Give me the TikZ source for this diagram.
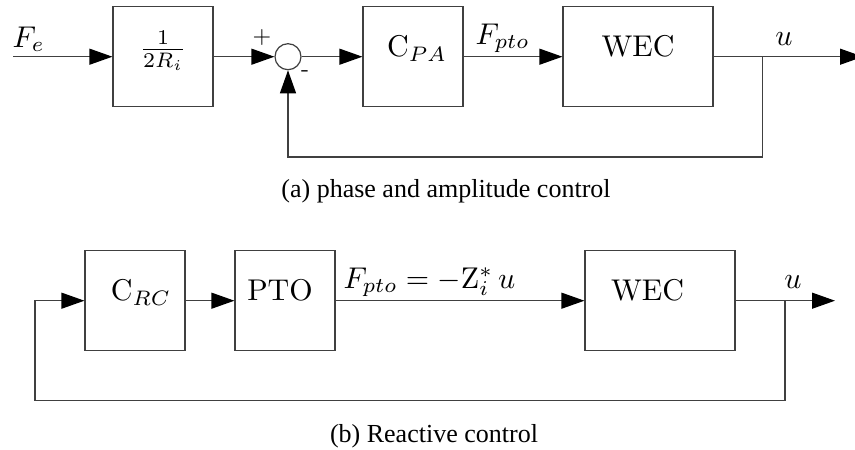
\documentclass[tikz,border=0pt]{standalone}
\usepackage{fontspec}
\newfontfamily\capfont{Liberation Serif}
\usetikzlibrary{arrows.meta}
\definecolor{linec}{gray}{0.25}
\begin{document}
\begin{tikzpicture}[x=1pt,y=-1pt,
  blk/.style={draw=linec, line width=1.2pt, minimum width=100pt, minimum height=100pt, inner sep=0pt},
  wideblk/.style={blk, minimum width=150pt},
  sumc/.style={draw=linec, line width=1.2pt, circle, minimum size=26pt, inner sep=0pt},
  sig/.style={draw=linec, line width=1.2pt, -{Triangle[length=23pt,width=16pt,color=black]}},
  lbl/.style={font=\fontsize{10}{12}\selectfont, scale=3, transform shape, inner sep=0pt, anchor=base},
  sgn/.style={font=\fontsize{10}{12}\selectfont, scale=2.4, transform shape, inner sep=0pt},
  captxt/.style={font=\capfont\fontsize{26}{30}\selectfont, inner sep=0pt, anchor=base}]
\path[clip] (0,0) rectangle (855,450);
\useasboundingbox (0,0) rectangle (855,450);

% (a) phase and amplitude control
\coordinate (in1) at (13,56.7);
\node[blk] (gain) at (163,56.7) {};
\node[sumc] (sum) at (288,56.7) {};
\node[blk] (cpa) at (413,56.7) {};
\node[wideblk] (wecA) at (638,56.7) {};
\coordinate (jA) at (762.7,56.7);
\coordinate (outA) at (863,56.7);
\coordinate (fbA) at (762.7,157);

\draw[sig] (in1) -- (gain);
\draw[sig] (gain) -- (sum);
\draw[sig] (sum) -- (cpa);
\draw[sig] (cpa) -- (wecA);
\draw[sig] (wecA.east) -- (outA);
\draw[sig] (jA) -- (fbA) -| (sum.south);

\node[lbl] (tgain) at (gain.center) {$\frac{1}{2R_i}$};
\node[lbl] (tcpa) at (417,56.7) {$\mathrm{C}_{PA}$};
\node[lbl] (twecA) at (wecA.center) {WEC};
\node[lbl, anchor=base west] (tfe) at (12,47) {$F_e$};
\node[lbl, anchor=base west] (tfptoA) at (475,44) {$F_{pto}$};
\node[lbl] (tuA) at (784,45) {$u$};
\node[sgn] (plus) at (262,37) {$+$};
\node[sgn] (minus) at (305,74) {-};
\node[captxt] (capA) at (446,197) {(a) phase and amplitude control};

% (b) reactive control
\node[blk] (crc) at (135,300.7) {};
\node[blk] (pto) at (285,300.7) {};
\node[wideblk] (wecB) at (660,300.7) {};
\coordinate (jB) at (785,300.7);
\coordinate (outB) at (835,300.7);
\coordinate (fbB) at (785,400.7);
\coordinate (lB) at (35,300.7);

\draw[sig] (jB) -- (fbB) -| (lB) -- (crc);
\draw[sig] (crc) -- (pto);
\draw[sig] (pto) -- (wecB);
\draw[sig] (wecB.east) -- (outB);

\node[lbl] (tcrc) at (141,300.7) {$\mathrm{C}_{RC}$};
\node[lbl] (tpto) at (280,300.7) {PTO};
\node[lbl] (twecB) at (647.5,300.7) {WEC};
\node[lbl, anchor=base west] (tfptoB) at (343,288) {$F_{pto}=-\mathrm{Z}_i^*\,u$};
\node[lbl] (tuB) at (793,288) {$u$};
\node[captxt] (capB) at (434,442) {(b) Reactive control};
\end{tikzpicture}
\end{document}
